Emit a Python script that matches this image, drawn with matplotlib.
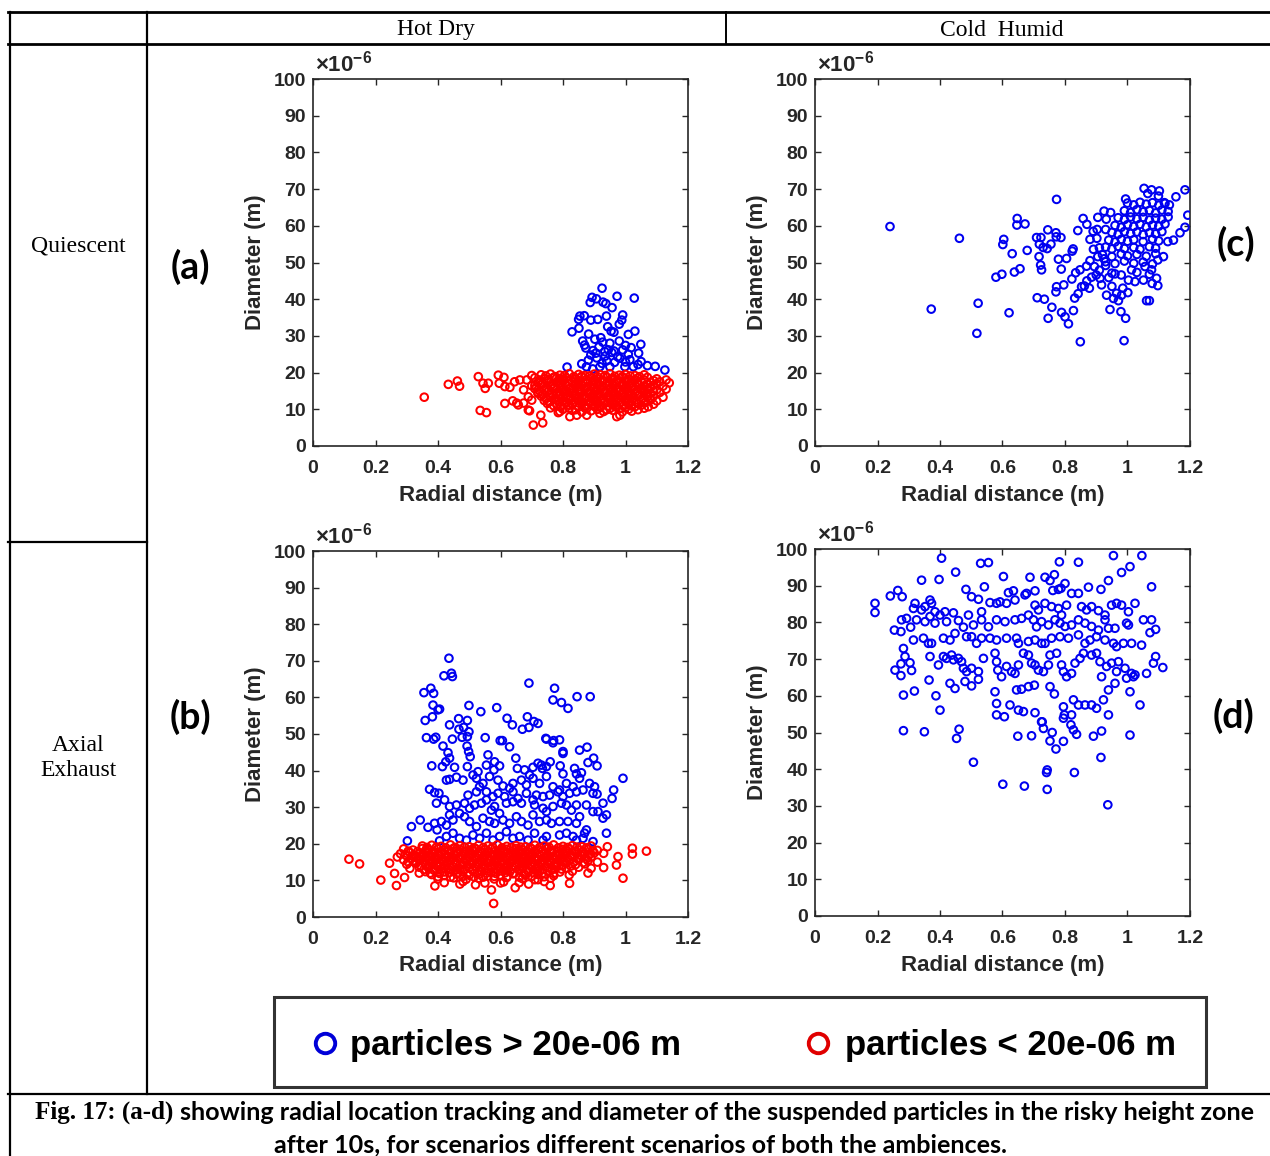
import matplotlib
matplotlib.use('Agg')
import matplotlib.pyplot as plt
from matplotlib.lines import Line2D
from matplotlib.patches import Rectangle

# ---------------- data (diameters in units of 1e-6 m) ----------------
x_ticks = [0, 0.2, 0.4, 0.6, 0.8, 1.0, 1.2]
x_tick_labels = ['0', '0.2', '0.4', '0.6', '0.8', '1', '1.2']
y_ticks = [0, 10, 20, 30, 40, 50, 60, 70, 80, 90, 100]
y_tick_labels = [str(v) for v in y_ticks]
col_headers = ['Hot Dry', 'Cold  Humid']
row_headers = ['Quiescent', 'Axial\nExhaust']
panel_labels = ['(a)', '(b)', '(c)', '(d)']
legend_labels = ['particles > 20e-06 m', 'particles < 20e-06 m']

# (a) Hot Dry, Quiescent
a_big = [(0.925,43.0),(0.893,40.5),(0.907,40.1),(0.887,39.1),(0.973,40.8),(1.028,40.3),(0.928,39.2),(0.937,38.8),
 (0.957,37.7),(0.854,35.4),(0.868,35.5),(0.850,34.5),(0.889,34.3),(0.911,34.5),(0.939,35.4),(0.991,35.7),
 (0.988,34.3),(0.980,33.2),(0.943,32.5),(0.954,31.3),(0.963,31.0),(0.829,31.1),(0.851,32.1),(0.882,30.5),
 (1.009,30.4),(1.030,31.3),(0.863,28.6),(0.869,27.5),(0.873,26.7),(0.902,29.1),(0.921,29.5),(0.927,28.3),
 (0.896,26.0),(0.889,24.8),(0.905,25.3),(0.934,25.7),(0.945,26.2),(0.956,25.5),(0.963,25.9),(0.991,26.2),
 (1.018,26.8),(1.009,25.0),(1.049,27.7),(1.042,25.3),(0.881,23.4),(0.908,24.0),(0.940,23.2),(0.982,23.9),
 (1.014,23.5),(1.070,21.9),(1.095,21.7),(1.126,20.7),(0.813,21.5),(0.875,21.6),(0.918,21.6),(0.950,21.6),
 (0.998,21.6),(1.025,21.6),(0.925,22.5),(0.965,22.8),(0.895,21.0),(1.040,22.2),(0.935,24.5),(0.975,24.3),
 (1.000,22.9),(0.860,22.4),(0.915,27.0),(0.950,28.0),(1.050,23.0),(0.980,28.6),(1.000,27.4)]
a_small = [(0.356,13.3),(0.433,16.8),(0.462,17.7),(0.469,16.3),(0.529,18.9),(0.544,17.1),(0.561,17.1),(0.551,15.7),
 (0.593,19.3),(0.611,18.7),(0.596,17.1),(0.614,16.2),(0.630,16.0),(0.535,9.7),(0.555,9.1),(0.614,11.6),
 (0.639,12.3),(0.652,11.7),(0.674,11.7),(0.657,11.2),(0.705,5.7),(0.735,6.3),(0.729,8.4),(0.689,9.8),(0.693,9.6),
 (0.662,18.0),(0.684,18.0),(0.674,15.3),(0.689,13.4),(0.645,17.5),(0.700,19.2),(0.710,16.5),(0.700,12.5),
 (0.720,14.5),(0.785,9.1),(0.822,8.0),(0.844,8.4),(0.876,8.4),(0.918,8.9),(0.972,8.0),(0.982,8.4),(1.073,10.7),
 (0.73,19.4),(0.76,19.6),(0.79,19.3),(0.82,19.7),(0.85,19.5),(0.87,19.2),(0.90,19.6),(0.92,19.4),(0.95,19.7),
 (0.98,19.3),(1.00,19.5),(1.03,19.2),(1.06,19.4),
 (0.71,18.6),(0.74,18.3),(0.77,18.7),(0.79,18.4),(0.81,18.6),(0.84,18.2),(0.86,18.8),(0.89,18.5),(0.91,18.3),
 (0.94,18.7),(0.96,18.4),(0.99,18.6),(1.01,18.2),(1.04,18.5),(1.07,18.7),(1.10,18.3),(1.13,18.0),
 (0.72,17.3),(0.75,17.6),(0.78,17.4),(0.80,17.7),(0.83,17.5),(0.85,17.2),(0.88,17.6),(0.90,17.4),(0.93,17.8),
 (0.95,17.3),(0.97,17.5),(1.00,17.7),(1.02,17.2),(1.05,17.6),(1.08,17.4),(1.11,17.5),(1.14,17.2),
 (0.70,16.4),(0.73,16.7),(0.76,16.3),(0.79,16.6),(0.81,16.4),(0.84,16.8),(0.86,16.5),(0.89,16.2),(0.91,16.6),
 (0.94,16.4),(0.96,16.7),(0.99,16.3),(1.01,16.5),(1.04,16.8),(1.06,16.4),(1.09,16.6),(1.12,16.3),
 (0.71,15.6),(0.74,15.3),(0.77,15.7),(0.80,15.4),(0.82,15.6),(0.85,15.2),(0.87,15.5),(0.90,15.8),(0.92,15.4),
 (0.95,15.6),(0.97,15.3),(1.00,15.5),(1.02,15.7),(1.05,15.4),(1.07,15.6),(1.10,15.3),(1.13,15.5),
 (0.72,14.4),(0.75,14.7),(0.78,14.3),(0.80,14.6),(0.83,14.4),(0.85,14.8),(0.88,14.5),(0.90,14.2),(0.93,14.6),
 (0.96,14.4),(0.98,14.7),(1.01,14.3),(1.03,14.5),(1.06,14.7),(1.08,14.4),(1.11,14.6),
 (0.73,13.6),(0.76,13.3),(0.79,13.7),(0.81,13.4),(0.84,13.6),(0.86,13.2),(0.89,13.5),(0.91,13.8),(0.94,13.4),
 (0.96,13.6),(0.99,13.3),(1.01,13.5),(1.04,13.7),(1.07,13.4),(1.09,13.6),(1.12,13.3),
 (0.74,12.4),(0.77,12.7),(0.80,12.3),(0.82,12.6),(0.85,12.4),(0.87,12.8),(0.90,12.5),(0.92,12.2),(0.95,12.6),
 (0.97,12.4),(1.00,12.7),(1.02,12.3),(1.05,12.5),(1.08,12.6),(1.10,12.3),
 (0.75,11.6),(0.78,11.3),(0.81,11.7),(0.83,11.4),(0.86,11.6),(0.88,11.2),(0.91,11.5),(0.93,11.8),(0.96,11.4),
 (0.98,11.6),(1.01,11.3),(1.04,11.5),(1.06,11.7),(1.09,11.4),
 (0.76,10.4),(0.79,10.7),(0.82,10.3),(0.85,10.6),(0.87,10.4),(0.90,10.8),(0.92,10.5),(0.95,10.2),(0.97,10.6),
 (1.00,10.4),(1.03,10.7),(1.06,10.3),
 (0.79,9.4),(0.83,9.7),(0.86,9.3),(0.89,9.6),(0.93,9.4),(0.96,9.7),(0.99,9.3),(1.02,9.5),
 (0.745,19.1),(0.775,18.9),(0.805,19.2),(0.835,18.9),(0.860,19.0),(0.885,19.1),(0.910,18.9),(0.935,19.2),
 (0.965,19.0),(0.990,18.9),(1.015,19.1),(1.045,18.9),
 (0.725,18.0),(0.755,18.1),(0.785,17.9),(0.800,18.1),(0.825,18.0),(0.850,17.8),(0.875,18.1),(0.900,18.0),
 (0.925,17.9),(0.955,18.1),(0.975,18.0),(1.005,17.9),(1.030,18.1),(1.060,18.0),(1.090,17.8),
 (0.735,17.0),(0.765,16.9),(0.790,17.1),(0.815,17.0),(0.840,16.9),(0.865,17.1),(0.895,17.0),(0.915,16.9),
 (0.940,17.1),(0.965,17.0),(0.990,16.9),(1.015,17.1),(1.040,17.0),(1.070,16.9),(1.100,17.0),
 (0.715,16.0),(0.745,15.9),(0.775,16.1),(0.800,16.0),(0.825,15.9),(0.850,16.1),(0.875,16.0),(0.900,15.9),
 (0.925,16.1),(0.955,16.0),(0.975,15.9),(1.000,16.1),(1.025,16.0),(1.050,15.9),(1.080,16.0),
 (0.725,15.0),(0.755,15.1),(0.785,14.9),(0.810,15.0),(0.835,15.1),(0.860,14.9),(0.885,15.0),(0.910,15.1),
 (0.935,14.9),(0.960,15.0),(0.985,15.1),(1.010,14.9),(1.035,15.0),(1.060,15.1),(1.090,14.9),
 (0.735,14.0),(0.765,14.1),(0.790,13.9),(0.815,14.0),(0.840,14.1),(0.865,13.9),(0.895,14.0),(0.915,14.1),
 (0.945,13.9),(0.970,14.0),(0.995,14.1),(1.020,13.9),(1.045,14.0),(1.070,14.1),
 (0.745,13.0),(0.775,12.9),(0.800,13.1),(0.825,13.0),(0.850,12.9),(0.875,13.1),(0.900,13.0),(0.925,12.9),
 (0.950,13.1),(0.975,13.0),(1.000,12.9),(1.025,13.1),(1.055,13.0),(1.080,12.9),
 (0.755,12.0),(0.785,12.1),(0.810,11.9),(0.835,12.0),(0.860,12.1),(0.885,11.9),(0.910,12.0),(0.935,12.1),
 (0.960,11.9),(0.985,12.0),(1.010,12.1),(1.035,11.9),(1.065,12.0),
 (0.770,11.0),(0.795,10.9),(0.820,11.1),(0.845,11.0),(0.870,10.9),(0.895,11.1),(0.920,11.0),(0.945,10.9),
 (0.970,11.1),(0.995,11.0),(1.020,10.9),(1.050,11.1),
 (0.800,10.0),(0.840,9.9),(0.875,10.1),(0.910,10.0),(0.940,9.9),(0.980,10.1),(1.010,10.0),(1.040,9.9)]

# (c) Cold Humid, Quiescent
c_big = [(0.240,59.8),(0.462,56.6),(0.372,37.3),(0.522,38.9),(0.518,30.7),(0.621,36.3),(0.773,67.2),(0.647,62.0),
 (0.646,60.2),(0.672,60.5),(0.604,56.3),(0.601,54.9),(0.631,52.4),(0.679,53.3),(0.579,46.0),(0.598,46.8),
 (0.638,47.4),(0.656,48.3),(0.709,56.8),(0.723,56.8),(0.718,55.0),(0.730,54.1),(0.743,53.8),(0.755,55.0),
 (0.745,58.9),(0.771,58.1),(0.787,56.8),(0.772,57.0),(0.717,51.6),(0.722,49.3),(0.725,48.0),(0.779,50.9),
 (0.805,51.1),(0.788,48.2),(0.711,40.4),(0.734,40.0),(0.758,37.8),(0.746,34.8),(0.789,36.4),(0.800,35.2),
 (0.811,33.3),(0.773,43.4),(0.771,42.0),(0.796,43.9),(0.827,36.9),(0.831,40.3),(0.842,41.5),(0.849,28.4),
 (0.989,28.7),(0.822,45.5),(0.834,47.2),(0.848,48.0),(0.853,43.4),(0.862,43.6),(0.878,43.0),(0.869,49.0),
 (0.841,58.7),(0.858,62.0),(0.870,60.4),(0.826,53.7),(0.823,53.1),(0.891,53.6),(0.905,51.6),(0.902,56.6),
 (0.903,59.0),(0.894,48.9),(0.900,46.6),(0.912,45.7),(0.917,43.9),(0.933,41.1),(0.944,37.2),(0.932,61.8),
 (0.946,63.6),(0.955,40.2),(0.965,41.6),(0.971,39.6),(0.981,41.1),(1.001,41.8),(0.979,36.6),(0.994,34.8),
 (1.061,39.6),(1.070,39.6),(1.053,70.2),(1.077,69.8),(1.102,69.5),(1.065,68.8),(1.099,68.1),(1.155,67.9),
 (1.184,69.8),(1.193,62.9),(1.184,59.6),(1.168,58.1),(1.147,56.1),(1.129,55.7),(0.994,67.3),(1.134,65.7),
 (1.118,66.3),(1.115,51.6),(1.097,50.7),(1.093,45.7),(1.097,43.7),(1.079,44.3),(1.077,48.0),(1.056,48.9),
 (1.051,45.2),(1.024,44.8),(1.003,45.2),(1.013,48.0),
 (0.880,56.3),(0.890,58.5),(0.930,59.0),(0.910,54.0),(0.925,51.0),(0.880,50.5),(0.910,47.9),(0.940,45.9),
 (0.950,43.5),(0.985,43.0),(0.960,46.9),(0.905,62.3),(0.925,64.0),(0.870,45.0),(0.885,46.0),(0.930,49.2),
 (1.00,66.2),(1.02,65.7),(1.04,66.4),(1.06,65.9),(1.08,66.3),(1.10,65.6),(1.12,66.1),
 (0.99,64.1),(1.01,63.6),(1.03,64.4),(1.05,63.8),(1.07,64.2),(1.09,63.5),(1.11,64.3),(1.13,63.9),
 (0.97,62.2),(0.99,61.7),(1.01,62.4),(1.03,61.9),(1.05,62.3),(1.07,61.6),(1.09,62.1),(1.11,61.8),(1.13,62.4),
 (0.96,60.1),(0.98,59.6),(1.00,60.3),(1.02,59.8),(1.04,60.4),(1.06,59.7),(1.08,60.2),(1.10,59.9),(1.12,60.5),
 (0.95,58.2),(0.97,57.7),(0.99,58.4),(1.01,57.9),(1.03,58.3),(1.05,57.6),(1.07,58.1),(1.09,57.8),(1.11,58.4),
 (0.94,56.1),(0.96,55.6),(0.98,56.3),(1.00,55.8),(1.02,56.2),(1.05,55.7),(1.08,56.4),(1.10,55.9),
 (0.93,54.2),(0.95,53.7),(0.97,54.4),(0.99,53.8),(1.02,54.1),(1.04,53.6),(1.07,54.3),(1.09,53.9),
 (0.92,52.1),(0.95,51.6),(0.98,52.3),(1.00,51.8),(1.03,52.2),(1.06,51.7),(1.09,52.4),
 (0.93,50.2),(0.96,49.7),(0.99,50.4),(1.02,49.8),(1.05,50.1),(1.08,49.6),
 (0.95,47.1),(0.98,46.6),(1.03,47.3),(1.07,46.8)]

# (b) Hot Dry, Axial Exhaust
b_big = [(0.435,70.7),(0.419,65.9),(0.443,66.6),(0.446,65.7),(0.355,61.3),(0.377,62.5),(0.386,61.1),(0.691,63.9),
 (0.773,62.5),(0.768,59.3),(0.795,58.6),(0.816,57.0),(0.845,60.2),(0.887,60.2),
 (0.384,57.9),(0.400,56.6),(0.405,56.8),(0.382,54.7),(0.359,53.7),(0.499,57.8),(0.537,56.1),(0.588,57.2),
 (0.466,54.2),(0.494,53.7),(0.437,52.5),(0.467,51.3),(0.482,51.8),(0.499,50.6),
 (0.621,54.3),(0.638,52.5),(0.670,51.3),(0.686,54.7),(0.691,51.8),(0.707,53.4),(0.720,52.9),
 (0.363,49.0),(0.386,48.6),(0.393,49.1),(0.446,48.6),(0.416,46.7),(0.477,49.1),(0.494,49.3),(0.551,49.0),
 (0.599,48.2),(0.606,48.2),(0.629,46.5),(0.745,48.8),(0.747,48.6),(0.770,48.2),(0.789,48.4),(0.768,47.6),
 (0.853,45.6),(0.877,46.4),(0.800,45.2),(0.800,44.7),
 (0.432,44.9),(0.437,43.4),(0.493,46.7),(0.498,45.2),(0.503,43.8),(0.560,44.3),(0.581,42.4),(0.597,41.3),
 (0.380,41.3),(0.414,41.1),(0.425,42.4),(0.453,40.9),(0.494,41.1),(0.528,39.7),(0.555,41.5),(0.579,40.2),
 (0.649,43.4),(0.654,40.6),(0.677,40.2),(0.693,38.8),(0.704,40.9),(0.720,42.0),(0.731,41.5),(0.734,40.6),
 (0.747,41.1),(0.759,42.4),(0.791,41.3),(0.800,39.1),(0.837,40.6),(0.843,39.1),(0.859,39.4),(0.880,42.2),
 (0.898,43.4),(0.909,41.3),(0.992,37.9),
 (0.427,37.4),(0.437,37.6),(0.459,38.2),(0.480,37.4),(0.512,38.8),(0.523,37.9),(0.544,36.5),(0.565,38.4),
 (0.592,37.4),(0.608,35.8),(0.629,35.2),(0.640,36.5),(0.667,37.4),(0.683,36.1),(0.704,37.9),(0.725,36.5),
 (0.747,38.4),(0.768,35.6),(0.789,34.7),(0.811,36.5),(0.832,35.6),(0.853,37.9),(0.885,36.5),(0.901,35.6),
 (0.373,34.9),(0.389,34.0),(0.403,33.8),(0.496,33.3),(0.523,34.2),(0.533,35.6),(0.555,34.2),(0.576,32.9),
 (0.592,33.8),(0.613,32.9),(0.640,34.2),(0.656,32.4),(0.683,33.8),(0.715,33.3),(0.736,32.9),(0.757,33.3),
 (0.784,34.2),(0.800,32.9),(0.821,33.8),(0.843,34.2),(0.864,34.7),(0.896,33.8),(0.909,33.6),(0.962,34.7),
 (0.957,32.4),
 (0.395,31.1),(0.421,32.0),(0.437,30.2),(0.459,30.6),(0.485,31.1),(0.501,29.7),(0.517,30.6),(0.539,31.1),
 (0.555,32.0),(0.571,29.2),(0.581,30.2),(0.597,28.3),(0.619,31.1),(0.640,31.5),(0.667,31.1),(0.704,32.0),
 (0.709,30.6),(0.736,29.7),(0.747,28.8),(0.768,30.2),(0.795,31.1),(0.811,30.6),(0.827,29.2),(0.843,30.6),
 (0.875,30.6),(0.896,28.8),(0.928,31.1),(0.939,27.9),(0.928,27.0),(0.912,28.8),
 (0.315,24.7),(0.343,26.5),(0.368,24.5),(0.389,25.6),(0.397,23.8),(0.411,26.1),(0.427,25.1),(0.437,27.9),
 (0.448,26.5),(0.469,28.3),(0.485,27.4),(0.501,26.1),(0.523,24.7),(0.544,27.0),(0.565,26.1),(0.581,25.6),
 (0.608,26.5),(0.629,25.6),(0.651,27.4),(0.667,26.1),(0.688,25.1),(0.704,27.9),(0.725,26.1),(0.747,26.5),
 (0.763,25.6),(0.789,26.1),(0.816,26.1),(0.843,25.6),(0.853,27.4),(0.875,23.8),
 (0.302,20.8),(0.405,20.8),(0.427,22.0),(0.448,22.9),(0.469,21.5),(0.491,21.0),(0.512,22.4),(0.533,21.5),
 (0.555,22.9),(0.576,21.0),(0.597,22.0),(0.619,23.3),(0.640,21.5),(0.661,22.0),(0.688,21.0),(0.709,22.9),
 (0.736,21.0),(0.747,22.0),(0.789,22.4),(0.811,22.9),(0.832,22.0),(0.843,21.0),(0.864,21.5),(0.869,22.9),
 (0.896,20.6),(0.939,22.9)]
b_small = [(0.115,15.8),(0.149,14.5),(0.217,10.1),(0.261,11.9),(0.267,8.6),(0.293,10.8),(0.245,14.7),(0.578,3.7),
 (0.571,7.4),(0.647,8.0),(0.759,8.6),(0.821,9.2),(0.992,10.6),(0.971,14.2),(0.976,16.5),(1.022,18.8),
 (1.022,17.2),(1.067,18.0),(0.942,19.2),(0.880,12.0),(0.910,15.0),(0.930,13.5),(0.390,8.5),(0.470,9.0),
 (0.520,8.8),(0.600,9.3),(0.690,9.0),(0.720,10.2),(0.340,12.0),(0.310,13.3),
 (0.35,19.4),(0.38,19.6),(0.41,19.3),(0.44,19.7),(0.47,19.5),(0.50,19.2),(0.53,19.6),(0.56,19.4),(0.59,19.7),
 (0.62,19.3),(0.65,19.5),(0.68,19.2),(0.71,19.6),(0.74,19.4),(0.77,19.7),(0.80,19.3),(0.83,19.5),(0.86,19.2),(0.89,19.4),
 (0.29,18.6),(0.32,18.3),(0.35,18.7),(0.37,18.4),(0.40,18.6),(0.42,18.2),(0.45,18.8),(0.47,18.5),(0.50,18.3),
 (0.52,18.7),(0.55,18.4),(0.57,18.6),(0.60,18.2),(0.62,18.5),(0.65,18.7),(0.67,18.3),(0.70,18.6),(0.72,18.4),
 (0.75,18.7),(0.77,18.2),(0.80,18.5),(0.82,18.6),(0.85,18.3),(0.88,18.5),(0.91,18.2),
 (0.28,17.3),(0.31,17.6),(0.34,17.4),(0.36,17.7),(0.39,17.5),(0.41,17.2),(0.44,17.6),(0.46,17.4),(0.49,17.8),
 (0.51,17.3),(0.54,17.5),(0.56,17.7),(0.59,17.2),(0.61,17.6),(0.64,17.4),(0.66,17.5),(0.69,17.2),(0.71,17.7),
 (0.74,17.4),(0.76,17.6),(0.79,17.3),(0.81,17.5),(0.84,17.7),(0.87,17.3),(0.90,17.5),(0.93,17.4),
 (0.27,16.4),(0.30,16.7),(0.33,16.3),(0.35,16.6),(0.38,16.4),(0.40,16.8),(0.43,16.5),(0.45,16.2),(0.48,16.6),
 (0.50,16.4),(0.53,16.7),(0.55,16.3),(0.58,16.5),(0.60,16.8),(0.63,16.4),(0.65,16.6),(0.68,16.3),(0.70,16.5),
 (0.73,16.7),(0.75,16.4),(0.78,16.6),(0.80,16.3),(0.83,16.5),(0.86,16.7),(0.89,16.4),
 (0.29,15.6),(0.32,15.3),(0.34,15.7),(0.37,15.4),(0.39,15.6),(0.42,15.2),(0.44,15.5),(0.47,15.8),(0.49,15.4),
 (0.52,15.6),(0.54,15.3),(0.57,15.5),(0.59,15.7),(0.62,15.4),(0.64,15.6),(0.67,15.3),(0.69,15.5),(0.72,15.7),
 (0.74,15.4),(0.77,15.6),(0.79,15.3),(0.82,15.5),(0.85,15.7),(0.88,15.4),
 (0.30,14.4),(0.33,14.7),(0.36,14.3),(0.38,14.6),(0.41,14.4),(0.43,14.8),(0.46,14.5),(0.48,14.2),(0.51,14.6),
 (0.53,14.4),(0.56,14.7),(0.58,14.3),(0.61,14.5),(0.63,14.7),(0.66,14.4),(0.68,14.6),(0.71,14.3),(0.73,14.5),
 (0.76,14.7),(0.78,14.4),(0.81,14.6),(0.84,14.3),(0.87,14.5),
 (0.34,13.6),(0.37,13.3),(0.40,13.7),(0.42,13.4),(0.45,13.6),(0.47,13.2),(0.50,13.5),(0.52,13.8),(0.55,13.4),
 (0.57,13.6),(0.60,13.3),(0.62,13.5),(0.65,13.7),(0.67,13.4),(0.70,13.6),(0.72,13.3),(0.75,13.5),(0.78,13.7),
 (0.81,13.4),(0.85,13.6),(0.89,13.3),
 (0.36,12.4),(0.39,12.7),(0.42,12.3),(0.45,12.6),(0.48,12.4),(0.51,12.8),(0.54,12.5),(0.57,12.2),(0.60,12.6),
 (0.63,12.4),(0.66,12.7),(0.69,12.3),(0.72,12.5),(0.75,12.6),(0.79,12.3),(0.83,12.5),
 (0.38,11.6),(0.42,11.3),(0.46,11.7),(0.50,11.4),(0.53,11.6),(0.56,11.2),(0.60,11.5),(0.64,11.8),(0.68,11.4),
 (0.72,11.6),(0.77,11.3),(0.82,11.5),
 (0.40,10.4),(0.45,10.7),(0.49,10.3),(0.53,10.6),(0.58,10.4),(0.62,10.8),(0.67,10.5),(0.71,10.2),(0.76,10.6),
 (0.42,9.4),(0.48,9.7),(0.55,9.3),(0.61,9.6),(0.66,9.4),(0.74,9.7),
 (0.365,19.0),(0.395,19.1),(0.425,18.9),(0.455,19.0),(0.485,19.1),(0.515,18.9),(0.545,19.0),(0.575,19.1),
 (0.605,18.9),(0.635,19.0),(0.665,19.1),(0.695,18.9),(0.725,19.0),(0.755,19.1),(0.785,18.9),(0.815,19.0),
 (0.845,19.1),(0.875,18.9),
 (0.305,18.0),(0.335,17.9),(0.360,18.1),(0.385,18.0),(0.410,17.9),(0.435,18.1),(0.460,18.0),(0.485,17.9),
 (0.510,18.1),(0.535,18.0),(0.560,17.9),(0.585,18.1),(0.610,18.0),(0.635,17.9),(0.660,18.1),(0.685,18.0),
 (0.710,17.9),(0.735,18.1),(0.760,18.0),(0.785,17.9),(0.810,18.1),(0.835,18.0),(0.865,17.9),(0.895,18.1),
 (0.295,17.0),(0.325,16.9),(0.350,17.1),(0.375,17.0),(0.400,16.9),(0.425,17.1),(0.450,17.0),(0.475,16.9),
 (0.500,17.1),(0.525,17.0),(0.550,16.9),(0.575,17.1),(0.600,17.0),(0.625,16.9),(0.650,17.1),(0.675,17.0),
 (0.700,16.9),(0.725,17.1),(0.750,17.0),(0.775,16.9),(0.800,17.1),(0.825,17.0),(0.855,16.9),(0.885,17.1),
 (0.315,16.0),(0.340,15.9),(0.365,16.1),(0.390,16.0),(0.415,15.9),(0.440,16.1),(0.465,16.0),(0.490,15.9),
 (0.515,16.1),(0.540,16.0),(0.565,15.9),(0.590,16.1),(0.615,16.0),(0.640,15.9),(0.665,16.1),(0.690,16.0),
 (0.715,15.9),(0.740,16.1),(0.765,16.0),(0.790,15.9),(0.815,16.1),(0.845,16.0),(0.875,15.9),
 (0.305,15.0),(0.330,14.9),(0.355,15.1),(0.380,15.0),(0.405,14.9),(0.430,15.1),(0.455,15.0),(0.480,14.9),
 (0.505,15.1),(0.530,15.0),(0.555,14.9),(0.580,15.1),(0.605,15.0),(0.630,14.9),(0.655,15.1),(0.680,15.0),
 (0.705,14.9),(0.730,15.1),(0.755,15.0),(0.780,14.9),(0.805,15.1),(0.835,15.0),(0.865,14.9),
 (0.345,14.0),(0.370,13.9),(0.395,14.1),(0.420,14.0),(0.445,13.9),(0.470,14.1),(0.495,14.0),(0.520,13.9),
 (0.545,14.1),(0.570,14.0),(0.595,13.9),(0.620,14.1),(0.645,14.0),(0.670,13.9),(0.695,14.1),(0.720,14.0),
 (0.745,13.9),(0.770,14.1),(0.795,14.0),(0.825,13.9),
 (0.355,13.0),(0.385,12.9),(0.410,13.1),(0.435,13.0),(0.460,12.9),(0.485,13.1),(0.510,13.0),(0.535,12.9),
 (0.560,13.1),(0.585,13.0),(0.610,12.9),(0.635,13.1),(0.660,13.0),(0.685,12.9),(0.710,13.1),(0.735,13.0),
 (0.765,12.9),(0.795,13.1),
 (0.375,12.0),(0.405,11.9),(0.435,12.1),(0.465,12.0),(0.495,11.9),(0.525,12.1),(0.555,12.0),(0.585,11.9),
 (0.615,12.1),(0.645,12.0),(0.675,11.9),(0.705,12.1),(0.735,12.0),(0.770,11.9),
 (0.400,11.0),(0.440,10.9),(0.480,11.1),(0.515,11.0),(0.545,10.9),(0.580,11.1),(0.620,11.0),(0.660,10.9),
 (0.700,11.1),(0.740,11.0)]

# (d) Cold Humid, Axial Exhaust
d_big = [(0.405,97.5),(0.530,96.1),(0.555,96.3),(0.450,93.7),(0.782,96.5),(0.843,96.4),(0.955,98.2),(1.046,98.2),
 (0.981,93.6),(1.008,95.2),(0.939,91.4),(1.077,89.7),(0.341,91.5),(0.397,91.7),
 (0.603,92.5),(0.688,92.3),(0.736,92.3),(0.766,93.0),(0.752,91.4),(0.800,90.6),
 (0.483,89.0),(0.542,89.7),(0.619,88.1),(0.635,88.6),(0.672,87.5),(0.677,87.9),(0.704,88.6),(0.761,88.7),
 (0.779,89.0),(0.787,89.3),(0.875,89.6),(0.915,89.0),(0.265,88.7),(0.241,87.2),(0.279,87.0),(0.192,85.2),
 (0.192,82.7),(0.320,85.2),(0.315,83.8),(0.341,83.4),(0.368,86.1),(0.373,85.2),(0.352,84.3),(0.384,82.9),
 (0.400,82.0),(0.416,82.9),(0.443,82.6),(0.501,87.0),(0.523,86.3),(0.533,82.9),(0.560,85.4),(0.581,85.2),
 (0.592,85.6),(0.613,85.2),(0.640,86.1),(0.704,84.7),(0.715,83.4),(0.736,85.2),(0.757,84.3),(0.779,83.8),
 (0.789,82.0),(0.805,84.7),(0.821,87.9),(0.843,87.9),(0.853,84.3),(0.869,83.4),(0.885,84.3),(0.907,83.2),
 (0.928,82.0),(0.949,84.7),(0.965,85.2),(0.981,84.7),(1.003,82.9),(1.024,85.2),(1.051,80.7),(1.077,80.7),
 (1.090,78.1),(1.072,77.2),(0.997,79.8),(1.003,79.3),(0.277,80.7),(0.293,81.1),(0.254,77.9),(0.275,77.5),
 (0.306,78.7),(0.325,80.7),(0.352,80.2),(0.368,81.6),(0.384,79.8),(0.421,80.2),(0.459,80.5),(0.491,82.0),
 (0.507,79.3),(0.533,80.7),(0.555,78.8),(0.581,80.7),(0.608,80.2),(0.640,80.7),(0.661,81.1),(0.683,82.0),
 (0.699,80.7),(0.709,78.8),(0.725,80.2),(0.747,79.3),(0.768,80.7),(0.784,79.8),(0.800,78.9),(0.821,79.3),
 (0.843,80.7),(0.864,79.8),(0.885,78.9),(0.907,77.9),(0.928,80.7),(0.939,78.4),(0.960,78.4),
 (0.283,72.9),(0.315,75.2),(0.347,75.7),(0.363,74.3),(0.373,74.3),(0.411,75.7),(0.432,75.2),(0.448,77.0),
 (0.475,78.7),(0.485,76.1),(0.501,76.1),(0.517,74.3),(0.533,75.7),(0.560,75.7),(0.581,75.2),(0.613,75.7),
 (0.645,75.7),(0.651,74.3),(0.683,74.8),(0.704,75.2),(0.725,74.3),(0.736,74.3),(0.757,75.7),(0.784,76.1),
 (0.811,75.7),(0.843,76.6),(0.864,74.3),(0.880,75.2),(0.901,76.1),(0.928,75.2),(0.955,74.3),(0.965,73.4),
 (0.987,74.3),(1.013,74.3),(1.045,73.8),
 (0.256,67.0),(0.275,68.7),(0.275,65.5),(0.309,66.9),(0.304,69.0),(0.288,70.7),(0.368,70.7),(0.395,68.4),
 (0.411,70.7),(0.421,70.2),(0.437,71.1),(0.443,69.8),(0.459,70.2),(0.469,69.3),(0.475,67.5),(0.485,66.6),
 (0.501,67.5),(0.523,66.6),(0.539,70.2),(0.576,71.6),(0.581,69.3),(0.585,67.0),(0.597,65.2),(0.613,68.0),
 (0.629,66.6),(0.640,66.1),(0.651,68.4),(0.667,71.6),(0.683,71.1),(0.693,68.9),(0.704,68.4),(0.715,67.0),
 (0.731,66.6),(0.747,68.4),(0.752,71.1),(0.773,71.6),(0.789,68.4),(0.795,66.6),(0.805,65.2),(0.821,66.1),
 (0.832,68.9),(0.848,70.2),(0.859,71.6),(0.885,71.1),(0.901,71.6),(0.912,69.3),(0.933,68.0),(0.949,68.9),
 (0.965,66.6),(0.971,69.3),(0.992,67.5),(1.013,66.1),(1.024,65.7),(1.061,66.1),(1.083,68.9),(1.090,70.7),
 (1.113,67.7),
 (0.283,60.2),(0.318,61.3),(0.365,64.3),(0.387,60.0),(0.400,56.1),(0.432,63.4),(0.448,62.0),(0.480,63.9),
 (0.501,62.7),(0.523,64.5),(0.576,61.1),(0.581,57.9),(0.581,54.8),(0.606,54.3),(0.624,57.5),(0.651,56.1),
 (0.667,55.7),(0.645,61.6),(0.661,61.8),(0.683,62.5),(0.702,62.9),(0.704,55.4),(0.725,52.9),(0.752,62.5),
 (0.766,60.5),(0.795,57.0),(0.798,54.8),(0.795,53.9),(0.821,54.8),(0.827,58.9),(0.843,57.5),(0.864,57.5),
 (0.885,57.5),(0.901,56.6),(0.923,58.9),(0.939,54.8),(0.917,65.2),(0.939,61.6),(0.960,63.4),(1.008,61.1),
 (1.040,57.5),(1.019,65.2),(0.997,64.8),
 (0.283,50.5),(0.350,50.2),(0.453,48.4),(0.461,50.9),(0.649,49.0),(0.693,49.1),(0.727,52.9),(0.731,51.1),
 (0.759,50.0),(0.752,47.7),(0.771,45.5),(0.795,47.6),(0.819,52.1),(0.827,50.7),(0.837,49.5),(0.891,49.0),
 (0.917,50.4),(0.915,43.2),(1.008,49.3),(0.507,41.9),(0.601,35.9),(0.670,35.4),(0.743,39.8),(0.741,39.1),
 (0.743,34.5),(0.830,39.1),(0.937,30.3)]

# ---------------- styling / layout ----------------
W, H = 1270, 1156
BLUE = '#0000f0'
RED = '#ff0000'
AX_COLOR = '#262626'
SANS = ['Liberation Sans', 'DejaVu Sans']
SERIF = ['Liberation Serif', 'DejaVu Serif']
CAL = ['Lato', 'DejaVu Sans']

plt.rcParams['font.family'] = SANS
plt.rcParams['mathtext.fontset'] = 'custom'
plt.rcParams['mathtext.rm'] = 'Liberation Sans:bold'
plt.rcParams['mathtext.it'] = 'Liberation Sans:bold'
plt.rcParams['mathtext.bf'] = 'Liberation Sans:bold'
plt.rcParams['mathtext.default'] = 'rm'

fig = plt.figure(figsize=(W / 100, H / 100), dpi=100)


def fx(x):
    return x / W


def fy(y):
    return 1 - y / H


def hline(x0, x1, y, lw=1.6):
    fig.add_artist(Line2D([fx(x0), fx(x1)], [fy(y), fy(y)], color='black', lw=lw,
                          transform=fig.transFigure))


def vline(x, y0, y1, lw=1.6):
    fig.add_artist(Line2D([fx(x), fx(x)], [fy(y0), fy(y1)], color='black', lw=lw,
                          transform=fig.transFigure))


# table grid
hline(8, W, 12, 2.0)
hline(8, W, 44, 2.0)
hline(8, 147, 542, 1.6)
hline(8, W, 1094, 1.6)
vline(10, 12, H, 1.6)
vline(147, 12, 1094, 1.6)
vline(726, 12, 44, 1.4)

fig.text(fx(436), fy(30), col_headers[0], family=SERIF, fontsize=17, ha='center', va='center')
fig.text(fx(1002), fy(30), col_headers[1], family=SERIF, fontsize=17, ha='center', va='center')
fig.text(fx(78), fy(246), row_headers[0], family=SERIF, fontsize=17, ha='center', va='center')
fig.text(fx(78), fy(758), row_headers[1], family=SERIF, fontsize=17, ha='center', va='center',
         linespacing=1.25)

# axes positions (pixel boxes: left, top, right, bottom)
boxes = {'a': (313, 79, 688, 446), 'c': (815, 79, 1190, 446),
         'b': (313, 551, 688, 917), 'd': (815, 549, 1190, 916)}
series = {'a': (a_big, a_small), 'c': (c_big, []), 'b': (b_big, b_small), 'd': (d_big, [])}


def make_axes(key):
    l, t, r, b = boxes[key]
    ax = fig.add_axes([fx(l), fy(b), (r - l) / W, (b - t) / H])
    big, small = series[key]
    if big:
        ax.scatter([p[0] for p in big], [p[1] for p in big], s=30, facecolors='none',
                   edgecolors=BLUE, linewidths=1.45, zorder=3)
    if small:
        ax.scatter([p[0] for p in small], [p[1] for p in small], s=30, facecolors='none',
                   edgecolors=RED, linewidths=1.45, zorder=4)
    ax.set_xlim(0, 1.2)
    ax.set_ylim(0, 100)
    ax.set_xticks(x_ticks)
    ax.set_xticklabels(x_tick_labels)
    ax.set_yticks(y_ticks)
    ax.set_yticklabels(y_tick_labels)
    ax.tick_params(direction='in', top=True, right=True, length=4, width=1.0,
                   color=AX_COLOR, labelcolor=AX_COLOR, labelsize=14)
    ax.tick_params(axis='x', pad=10)
    ax.tick_params(axis='y', pad=5)
    for lbl in ax.get_xticklabels() + ax.get_yticklabels():
        lbl.set_fontweight('bold')
    for sp in ax.spines.values():
        sp.set_color(AX_COLOR)
        sp.set_linewidth(1.2)
    ax.set_xlabel('Radial distance (m)', fontsize=16, fontweight='bold', color=AX_COLOR)
    ax.set_ylabel('Diameter (m)', fontsize=16, fontweight='bold', color=AX_COLOR)
    ax.xaxis.set_label_coords(0.5, -0.105)
    ax.yaxis.set_label_coords(-0.125, 0.5)
    ax.text(0.005, 1.008, r'$\times10^{-6}$', transform=ax.transAxes, fontsize=16,
            color=AX_COLOR, ha='left', va='bottom')
    return ax


for k in ['a', 'c', 'b', 'd']:
    make_axes(k)

# panel labels
fig.text(fx(190), fy(267), panel_labels[0], family=CAL, fontweight='bold', fontsize=27, ha='center', va='center')
fig.text(fx(190), fy(717), panel_labels[1], family=CAL, fontweight='bold', fontsize=27, ha='center', va='center')
fig.text(fx(1236), fy(244), panel_labels[2], family=CAL, fontweight='bold', fontsize=27, ha='center', va='center')
fig.text(fx(1234), fy(716), panel_labels[3], family=CAL, fontweight='bold', fontsize=27, ha='center', va='center')

# legend box
fig.add_artist(Rectangle((fx(274), fy(1087)), (1206 - 274) / W, (1087 - 997) / H,
                         transform=fig.transFigure, fill=False, edgecolor='#333333', lw=2.2))
fig.add_artist(Line2D([fx(325)], [fy(1043)], marker='o', markersize=14, markerfacecolor='none',
                      markeredgecolor='#0000d8', markeredgewidth=2.8, transform=fig.transFigure))
fig.add_artist(Line2D([fx(818)], [fy(1043)], marker='o', markersize=14, markerfacecolor='none',
                      markeredgecolor='#e00000', markeredgewidth=2.8, transform=fig.transFigure))
fig.text(fx(350), fy(1046), legend_labels[0], fontsize=25, fontweight='bold', ha='left', va='center')
fig.text(fx(845), fy(1046), legend_labels[1], fontsize=25, fontweight='bold', ha='left', va='center')

# caption (two fonts on first line)
cap1a = 'Fig. 17: (a-d) '
cap1b = 'showing radial location tracking and diameter of the suspended particles in the risky height zone'
cap2 = 'after 10s, for scenarios different scenarios of both the ambiences.'
fs0 = 13.0
ta = fig.text(fx(35), fy(1112), cap1a, family=SERIF, fontweight='bold', fontsize=fs0, ha='left', va='center')
tb = fig.text(fx(35), fy(1112), cap1b, family=CAL, fontweight='bold', fontsize=fs0, ha='left', va='center')
fig.canvas.draw()
r = fig.canvas.get_renderer()
wa = ta.get_window_extent(r).width
wb = tb.get_window_extent(r).width
scale = (1255 - 35) / (wa + wb)
fs = fs0 * scale
ta.set_fontsize(fs)
tb.set_fontsize(fs)
fig.canvas.draw()
wa = ta.get_window_extent(r).width
tb.set_position((fx(35 + wa), fy(1112)))
fig.text(fx(640), fy(1145), cap2, family=CAL, fontweight='bold', fontsize=fs, ha='center', va='center')

fig.savefig('out.png', dpi=100)
